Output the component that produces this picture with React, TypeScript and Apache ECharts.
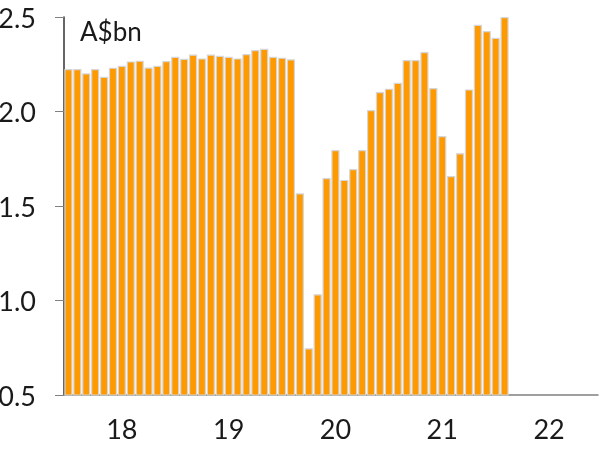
import React, { useEffect, useRef } from "react";
import * as echarts from "echarts";

const years = ["18", "19", "20", "21", "22"];
const months = years.flatMap((y) =>
  ["01", "02", "03", "04", "05", "06", "07", "08", "09", "10", "11", "12"].map((m) => `${y}-${m}`)
);
const values = [
  2.225, 2.225, 2.202, 2.225, 2.184, 2.232, 2.242, 2.265, 2.269, 2.233, 2.242, 2.267,
  2.29, 2.279, 2.301, 2.281, 2.301, 2.295, 2.29, 2.281, 2.304, 2.325, 2.332, 2.29,
  2.285, 2.276, 1.567, 0.747, 1.033, 1.648, 1.796, 1.638, 1.696, 1.796, 2.008, 2.103,
  2.121, 2.152, 2.272, 2.272, 2.315, 2.124, 1.87, 1.659, 1.779, 2.117, 2.459, 2.426,
  2.39, 2.5,
];
const yTicks = [0.5, 1.0, 1.5, 2.0, 2.5];
const unitLabel = "A$bn";

export default function App() {
  const ref = useRef<HTMLDivElement>(null);
  useEffect(() => {
    if (!ref.current) return;
    const chart = echarts.init(ref.current, null, { renderer: "svg" });
    const font = "Lato, 'Noto Sans', sans-serif";
    chart.setOption({
      animation: false,
      textStyle: { fontFamily: font },
      grid: {
        left: 64,
        right: 12,
        top: 17,
        bottom: 57,
        containLabel: false,
        outerBoundsMode: "none",
      },
      graphic: [
        {
          type: "text",
          left: 80,
          top: 18,
          style: { text: unitLabel, fontSize: 26, fill: "#1a1a1a", fontFamily: font },
        },
      ],
      xAxis: {
        type: "category",
        data: months,
        boundaryGap: true,
        axisLine: { lineStyle: { color: "#808080", width: 1.5 } },
        axisTick: {
          length: 9,
          lineStyle: { color: "#444" },
          interval: (i: number) => i % 12 === 0,
        },
        axisLabel: {
          interval: (i: number) => i % 12 === 6,
          formatter: (v: string) => v.slice(0, 2),
          fontSize: 27,
          color: "#1a1a1a",
          margin: 20,
          fontFamily: font,
        },
        splitLine: { show: false },
      },
      yAxis: {
        type: "value",
        min: yTicks[0],
        max: yTicks[yTicks.length - 1],
        interval: 0.5,
        axisLine: { show: true, lineStyle: { color: "#333", width: 1.5 } },
        axisTick: { show: true, length: 9, lineStyle: { color: "#808080" } },
        splitLine: { show: false },
        axisLabel: {
          formatter: (v: number) => v.toFixed(1),
          fontSize: 27,
          color: "#1a1a1a",
          margin: 28,
          fontFamily: font,
        },
      },
      series: [
        {
          type: "bar",
          data: values,
          barCategoryGap: "8%",
          itemStyle: { color: "#FF9900", borderColor: "#d6d6d6", borderWidth: 1.2 },
        },
      ],
    });
    return () => chart.dispose();
  }, []);
  return (
    <div
      ref={ref}
      style={{ position: "fixed", left: 0, top: 0, width: 610, height: 452 }}
    />
  );
}
